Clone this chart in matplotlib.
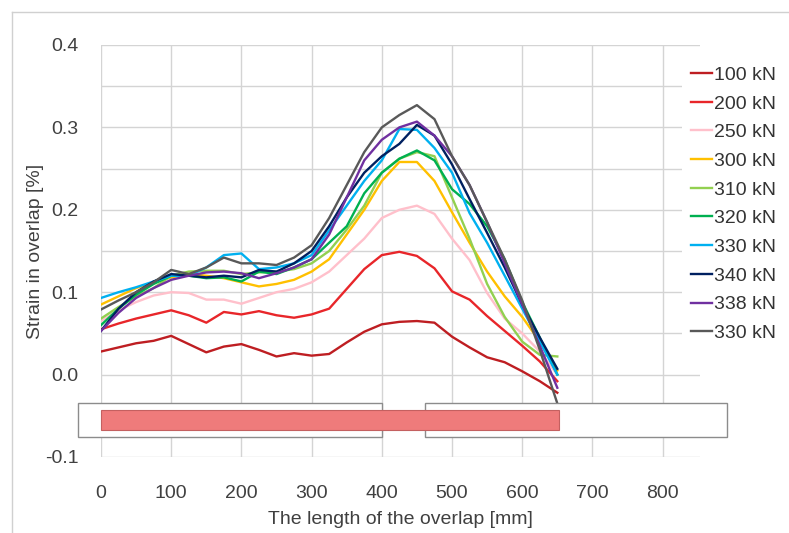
import matplotlib.pyplot as plt
import matplotlib.patches as mpatches
from matplotlib.lines import Line2D

plt.rcParams['font.family'] = ['Liberation Sans', 'DejaVu Sans']

# position along the overlap [mm]
x = [0, 25, 50, 75, 100, 125, 150, 175, 200, 225, 250, 275, 300, 325,
     350, 375, 400, 425, 450, 475, 500, 525, 550, 575, 600, 625, 650]

s100 = [0.028, 0.033, 0.038, 0.041, 0.047, 0.037, 0.027, 0.034, 0.037, 0.030, 0.022, 0.026, 0.023, 0.025,
        0.039, 0.052, 0.061, 0.064, 0.065, 0.063, 0.046, 0.033, 0.021, 0.015, 0.004, -0.008, -0.022]
s200 = [0.055, 0.062, 0.068, 0.073, 0.078, 0.072, 0.063, 0.076, 0.073, 0.077, 0.072, 0.069, 0.073, 0.080,
        0.104, 0.128, 0.145, 0.149, 0.144, 0.129, 0.101, 0.091, 0.071, 0.053, 0.035, 0.016, -0.008]
s250 = [0.065, 0.078, 0.088, 0.096, 0.100, 0.099, 0.091, 0.091, 0.086, 0.093, 0.100, 0.104, 0.112, 0.125,
        0.145, 0.165, 0.190, 0.200, 0.205, 0.195, 0.165, 0.139, 0.099, 0.068, 0.050, 0.028, 0.000]
s300 = [0.085, 0.095, 0.105, 0.112, 0.118, 0.122, 0.120, 0.117, 0.112, 0.107, 0.110, 0.115, 0.125, 0.140,
        0.170, 0.200, 0.235, 0.258, 0.258, 0.235, 0.197, 0.160, 0.125, 0.095, 0.070, 0.040, 0.005]
s310 = [0.068, 0.082, 0.095, 0.105, 0.120, 0.125, 0.126, 0.126, 0.122, 0.124, 0.125, 0.128, 0.135, 0.150,
        0.176, 0.205, 0.245, 0.262, 0.270, 0.265, 0.215, 0.165, 0.110, 0.070, 0.040, 0.024, 0.022]
s320 = [0.060, 0.080, 0.097, 0.110, 0.120, 0.120, 0.117, 0.118, 0.113, 0.125, 0.122, 0.130, 0.140, 0.160,
        0.180, 0.220, 0.245, 0.262, 0.272, 0.260, 0.225, 0.207, 0.180, 0.140, 0.088, 0.045, 0.000]
s330 = [0.093, 0.100, 0.106, 0.113, 0.120, 0.120, 0.130, 0.145, 0.147, 0.128, 0.130, 0.135, 0.145, 0.175,
        0.205, 0.235, 0.260, 0.298, 0.297, 0.275, 0.245, 0.196, 0.160, 0.120, 0.080, 0.040, 0.000]
s340 = [0.053, 0.080, 0.100, 0.113, 0.122, 0.120, 0.118, 0.120, 0.118, 0.127, 0.125, 0.135, 0.150, 0.180,
        0.215, 0.245, 0.265, 0.280, 0.303, 0.290, 0.255, 0.213, 0.172, 0.130, 0.085, 0.045, 0.007]
s338 = [0.053, 0.075, 0.093, 0.105, 0.115, 0.120, 0.124, 0.125, 0.123, 0.117, 0.123, 0.130, 0.140, 0.170,
        0.215, 0.260, 0.285, 0.300, 0.307, 0.290, 0.265, 0.230, 0.185, 0.135, 0.085, 0.035, -0.016]
s330b = [0.079, 0.090, 0.100, 0.112, 0.127, 0.122, 0.130, 0.142, 0.135, 0.135, 0.133, 0.142, 0.157, 0.190,
         0.230, 0.270, 0.300, 0.315, 0.327, 0.310, 0.265, 0.230, 0.185, 0.140, 0.090, 0.030, -0.035]

series = [s100, s200, s250, s300, s310, s320, s330, s340, s338, s330b]
labels = ['100 kN', '200 kN', '250 kN', '300 kN', '310 kN', '320 kN', '330 kN', '340 kN', '338 kN', '330 kN']
colors = ['#BE1E22', '#E8262A', '#FFC0CB', '#FFC000', '#92D050', '#00B050', '#00B0F0', '#002060',
          '#7030A0', '#595959']

# sketch of the joint below the curves: (x0, x1, y0, y1)
plates = [(-33, 400, -0.0756, -0.034), (462, 892, -0.0756, -0.034)]
overlap_bar = (0, 653, -0.067, -0.043)

fig = plt.figure(figsize=(7.89, 5.33), dpi=100)
ax = fig.add_axes([0.128, 0.1426, 0.759, 0.773])

for ys, lab, c in zip(series, labels, colors):
    ax.plot(x, ys, color=c, lw=1.7, label=lab, zorder=4)

for x0, x1, y0, y1 in plates:
    ax.add_patch(mpatches.Rectangle((x0, y0), x1 - x0, y1 - y0, facecolor='white',
                                    edgecolor='#8c8c8c', lw=1, zorder=5, clip_on=False))
x0, x1, y0, y1 = overlap_bar
ax.add_patch(mpatches.Rectangle((x0, y0), x1 - x0, y1 - y0, facecolor='#EF7B7B',
                                edgecolor='#C46060', lw=0.8, zorder=6, clip_on=False))

ax.set_xlim(0, 853)
ax.set_ylim(-0.1, 0.4)
ax.set_xticks(range(0, 900, 100))
ax.set_yticks([-0.1, 0.0, 0.1, 0.2, 0.3, 0.4])
ax.set_yticklabels(['-0.1', '0.0', '0.1', '0.2', '0.3', '0.4'])
ax.set_yticks([-0.05, 0.05, 0.15, 0.25, 0.35], minor=True)
ax.grid(True, which='both', color='#d4d4d4', lw=1, zorder=0)
ax.set_axisbelow(True)
for sp in ax.spines.values():
    sp.set_visible(False)
ax.tick_params(which='both', length=0, labelsize=14, colors='#404040')
ax.tick_params(axis='x', pad=20)
ax.tick_params(axis='y', pad=16)

ax.set_xlabel('The length of the overlap [mm]', fontsize=14, color='#404040', labelpad=7)
ax.set_ylabel('Strain in overlap [%]', fontsize=14, color='#404040', labelpad=1)

leg = fig.legend(loc='upper left', bbox_to_anchor=(0.864, 0.894), fontsize=14,
                 frameon=True, facecolor='white', edgecolor='none', framealpha=1,
                 handlelength=1.05, handletextpad=0.1, labelspacing=0.57, borderpad=0.5,
                 borderaxespad=0)
for t in leg.get_texts():
    t.set_color('#333333')

# light outer frame
fig.add_artist(Line2D([12 / 789, 1.0], [1 - 12 / 533, 1 - 12 / 533],
                      transform=fig.transFigure, color='#d0d0d0', lw=1))
fig.add_artist(Line2D([12 / 789, 12 / 789], [0.0, 1 - 12 / 533],
                      transform=fig.transFigure, color='#d0d0d0', lw=1))

fig.savefig('out.png', dpi=100)
